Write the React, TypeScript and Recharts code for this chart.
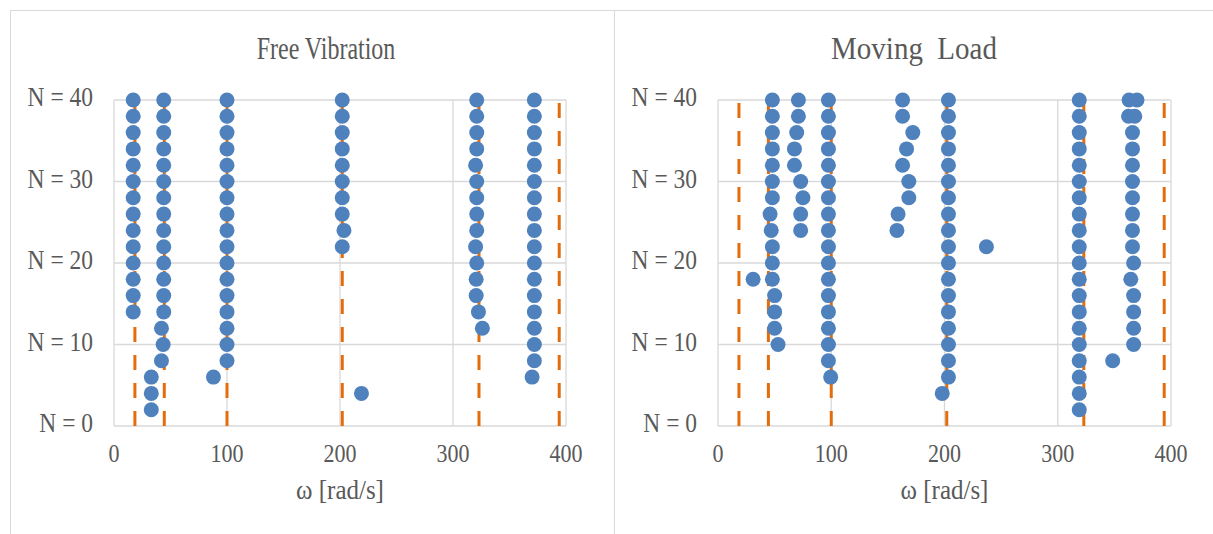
import { CartesianGrid, Scatter, ScatterChart, XAxis, YAxis } from 'recharts';

type Pt = [number, number]; // [omega, N]

const omegaTicks = [0, 100, 200, 300, 400];
const nTicks = [0, 10, 20, 30, 40];
const nTickLabels = ['N = 0', 'N = 10', 'N = 20', 'N = 30', 'N = 40'];

// exact natural frequencies (orange dashed lines)
const exactOmega = [18.5, 44.5, 100, 202, 323, 394];

// ---- Free Vibration ----
const freeMode1: Pt[] = [
  [17, 40], [17, 38], [17, 36], [17, 34], [17, 32], [17, 30], [17, 28],
  [17, 26], [17, 24], [17, 22], [17, 20], [17, 18], [17, 16], [17, 14],
  [33, 6], [33, 4], [33, 2]
];
const freeMode2: Pt[] = [
  [44, 40], [44, 38], [44, 36], [44, 34], [44, 32], [44, 30], [44, 28],
  [44, 26], [44, 24], [44, 22], [44, 20], [44, 18], [44, 16], [44, 14],
  [42, 12], [43.5, 10], [42, 8]
];
const freeMode3: Pt[] = [
  [100, 40], [100, 38], [100, 36], [100, 34], [100, 32], [100, 30], [100, 28],
  [100, 26], [100, 24], [100, 22], [100, 20], [100, 18], [100, 16], [100, 14],
  [100, 12], [100, 10], [100, 8], [88, 6]
];
const freeMode4: Pt[] = [
  [202, 40], [202, 38], [202, 36], [202, 34], [202, 32], [202, 30], [202, 28],
  [202, 26], [203.5, 24], [202, 22], [219, 4]
];
const freeMode5: Pt[] = [
  [321, 40], [321, 38], [321, 36], [321, 34], [320, 32], [321, 30], [321, 28],
  [321, 26], [321, 24], [320, 22], [321, 20], [320.5, 18], [320.5, 16],
  [322.5, 14], [326, 12]
];
const freeMode6: Pt[] = [
  [372, 40], [372, 38], [372, 36], [372, 34], [372, 32], [372, 30], [372, 28],
  [372, 26], [372, 24], [372, 22], [372, 20], [372, 18], [372, 16], [372, 14],
  [372, 12], [372, 10], [372, 8], [370, 6]
];

// ---- Moving Load ----
const loadModeA: Pt[] = [
  [48, 40], [48, 38], [48, 36], [48, 34], [48, 32], [48, 30], [48, 28],
  [46, 26], [47, 24], [48, 22], [48, 20], [48, 18], [50, 16], [50, 14],
  [50, 12], [53, 10], [31, 18]
];
const loadModeB: Pt[] = [
  [71, 40], [71, 38], [69.5, 36], [67.5, 34], [67.5, 32], [73, 30], [75, 28],
  [73, 26], [73, 24]
];
const loadModeC: Pt[] = [
  [97.5, 40], [97.5, 38], [97.5, 36], [97.5, 34], [97.5, 32], [97.5, 30],
  [97.5, 28], [97.5, 26], [97.5, 24], [97.5, 22], [97.5, 20], [97.5, 18],
  [97.5, 16], [97.5, 14], [97.5, 12], [97.5, 10], [97.5, 8], [99.5, 6]
];
const loadModeD: Pt[] = [
  [163, 40], [163, 38], [172, 36], [166.5, 34], [163, 32], [168.5, 30],
  [168.5, 28], [159, 26], [158, 24]
];
const loadModeE: Pt[] = [
  [203.5, 40], [203.5, 38], [203.5, 36], [203.5, 34], [203.5, 32], [203.5, 30],
  [203.5, 28], [203.5, 26], [203.5, 24], [203.5, 22], [203.5, 20], [203.5, 18],
  [203.5, 16], [203.5, 14], [203.5, 12], [203.5, 10], [203.5, 8], [203.5, 6],
  [198, 4], [237, 22]
];
const loadModeF: Pt[] = [
  [319, 40], [319, 38], [319, 36], [319, 34], [319, 32], [319, 30], [319, 28],
  [319, 26], [319, 24], [319, 22], [319, 20], [319, 18], [319, 16], [319, 14],
  [319, 12], [319, 10], [319, 8], [319, 6], [319, 4], [319, 2]
];
const loadModeG: Pt[] = [
  [363, 40], [370, 40], [362.5, 38], [368, 38], [366, 36], [366, 34], [366, 32],
  [366, 30], [366, 28], [366, 26], [366, 24], [366, 22], [367, 20], [364.5, 18],
  [367, 16], [367, 14], [367, 12], [367, 10], [348.5, 8]
];

const freePoints = [freeMode1, freeMode2, freeMode3, freeMode4, freeMode5, freeMode6];
const loadPoints = [loadModeA, loadModeB, loadModeC, loadModeD, loadModeE, loadModeF, loadModeG];

const BLUE = '#4F81BD';
const ORANGE = '#E46C0A';
const GRID = '#D9D9D9';
const TEXT = '#595959';
const FONT = '"Liberation Serif", "Times New Roman", serif';

const XTick = (props: any) => {
  const { x, y, payload } = props;
  return (
    <text
      transform={`translate(${x},${y + 34}) scale(1,1.17)`}
      textAnchor="middle"
      fontFamily={FONT}
      fontSize={22}
      fill={TEXT}
    >
      {payload.value}
    </text>
  );
};

const YTick = (props: any) => {
  const { x, y, payload } = props;
  return (
    <text
      transform={`translate(${x},${y + 6}) scale(1,1.12)`}
      textAnchor="end"
      fontFamily={FONT}
      fontSize={23.5}
      fill={TEXT}
    >
      {nTickLabels[nTicks.indexOf(payload.value)]}
    </text>
  );
};

const AxisTitle = (props: any) => {
  const { viewBox } = props;
  return (
    <text
      transform={`translate(${viewBox.x + viewBox.width / 2},${viewBox.y + 73}) scale(1,1.08)`}
      textAnchor="middle"
      fontFamily={FONT}
      fontSize={25}
      fill={TEXT}
    >
      ω [rad/s]
    </text>
  );
};

const Dot = (props: any) => <circle cx={props.cx} cy={props.cy} r={7.5} fill={BLUE} />;

const Panel = ({ left, width, right, groups }: { left: number; width: number; right: number; groups: Pt[][] }) => (
  <div style={{ position: 'absolute', left, top: 0 }}>
    <ScatterChart width={width} height={534} margin={{ top: 100, right, bottom: 48, left: 0 }}>
      <CartesianGrid stroke={GRID} strokeWidth={1.3} />
      <XAxis
        type="number"
        dataKey="w"
        domain={[0, 400]}
        ticks={omegaTicks}
        interval={0}
        axisLine={false}
        tickLine={false}
        tickSize={0}
        height={60}
        tick={<XTick />}
        label={<AxisTitle />}
      />
      <YAxis
        type="number"
        dataKey="n"
        domain={[0, 40]}
        ticks={nTicks}
        interval={0}
        axisLine={false}
        tickLine={false}
        tickSize={0}
        tickMargin={21}
        width={104}
        tick={<YTick />}
      />
      {exactOmega.map((w) => (
        <Scatter
          key={'exact' + w}
          data={[{ w, n: 0 }, { w, n: 40 }]}
          line={{ stroke: ORANGE, strokeWidth: 3, strokeDasharray: '15 13' }}
          shape={() => <g />}
          isAnimationActive={false}
        />
      ))}
      {groups.map((g, i) => (
        <Scatter
          key={'fem' + i}
          data={g.map(([w, n]) => ({ w, n }))}
          fill={BLUE}
          shape={<Dot />}
          isAnimationActive={false}
        />
      ))}
    </ScatterChart>
  </div>
);

const App = () => {
  return (
    <div style={{ position: 'absolute', left: 0, top: 0, width: 1213, height: 534, overflow: 'hidden', background: '#fff' }}>
      <div style={{ position: 'absolute', left: 10, top: 10, width: 605, height: 540, border: `1px solid ${GRID}`, boxSizing: 'border-box' }} />
      <div style={{ position: 'absolute', left: 614, top: 10, width: 620, height: 540, border: `1px solid ${GRID}`, boxSizing: 'border-box' }} />
      <Panel left={10} width={604} right={48} groups={freePoints} />
      <Panel left={614} width={599} right={42} groups={loadPoints} />
      <svg width={1213} height={534} style={{ position: 'absolute', left: 0, top: 0, pointerEvents: 'none' }}>
        <text transform="translate(326,59) scale(1,1.3)" textAnchor="middle" fontFamily={FONT} fontSize={24} fill={TEXT}>
          Free Vibration
        </text>
        <text
          transform="translate(914,59) scale(1,1.08)"
          textAnchor="middle"
          fontFamily={FONT}
          fontSize={29}
          fill={TEXT}
          style={{ whiteSpace: 'pre' }}
        >
          {'Moving  Load'}
        </text>
      </svg>
    </div>
  );
};

export default App;
